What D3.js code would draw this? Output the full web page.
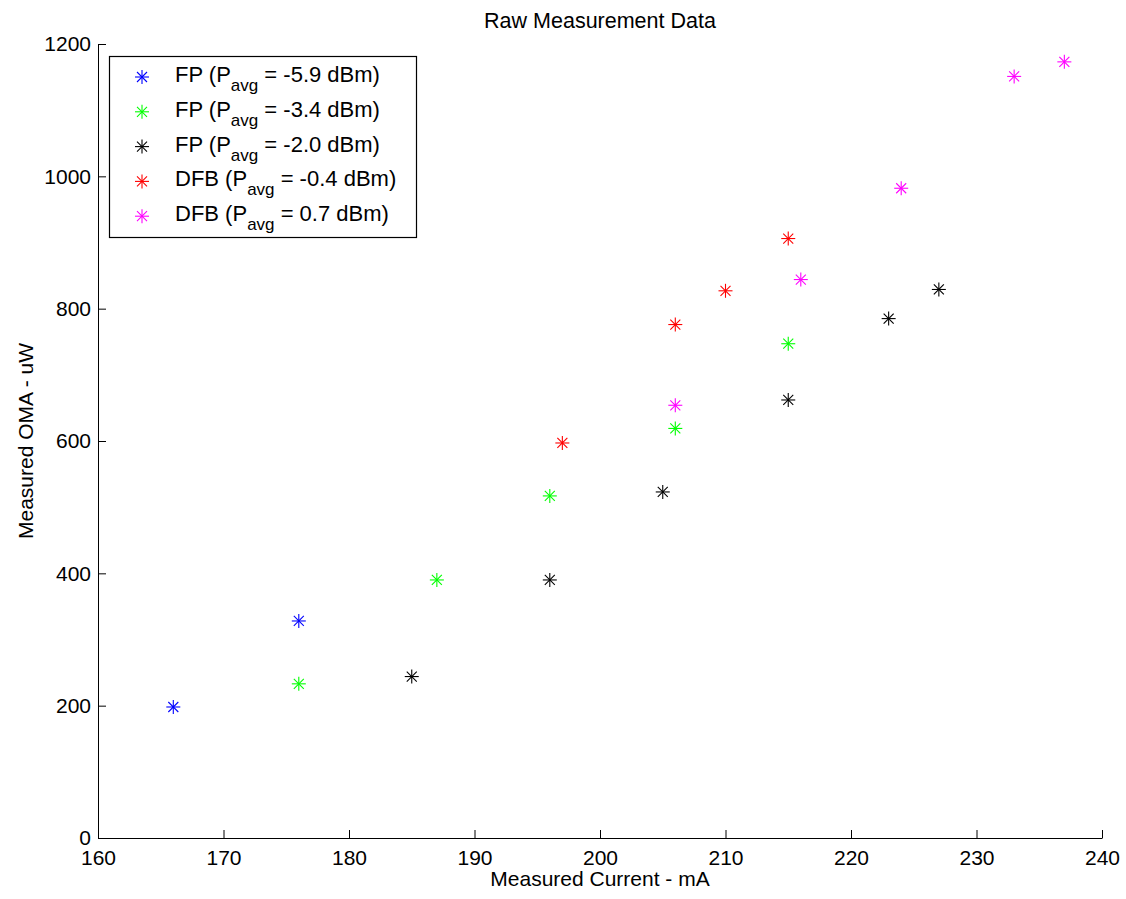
<!DOCTYPE html>
<html>
<head>
<meta charset="utf-8">
<script src="https://cdn.jsdelivr.net/npm/d3@7"></script>
<style>
  body { margin: 0; background: #fff; }
  svg { font-family: "Liberation Sans", Arial, Helvetica, sans-serif; }
  .tick text { font-size: 21px; fill: #000; }
</style>
</head>
<body>
<svg id="chart" width="1126" height="899"></svg>
<script>
// series
var seriesNames = ["FP", "FP", "FP", "DFB", "DFB"];
var seriesPavg = ["-5.9", "-3.4", "-2.0", "-0.4", "0.7"];
var seriesColors = ["#0000ff", "#00ff00", "#000000", "#ff0000", "#ff00ff"];

var fp59Current = [166, 176];
var fp59Oma = [198, 328];
var fp34Current = [176, 187, 196, 206, 215];
var fp34Oma = [233, 390, 517, 619, 747];
var fp20Current = [185, 196, 205, 215, 223, 227];
var fp20Oma = [244, 390, 523, 662, 785, 829];
var dfb04Current = [197, 206, 210, 215];
var dfb04Oma = [597, 776, 827, 906];
var dfb07Current = [206, 216, 224, 233, 237];
var dfb07Oma = [654, 844, 982, 1151, 1173];

var xTicks = [160, 170, 180, 190, 200, 210, 220, 230, 240];
var yTicks = [0, 200, 400, 600, 800, 1000, 1200];

var series = [
  [fp59Current, fp59Oma],
  [fp34Current, fp34Oma],
  [fp20Current, fp20Oma],
  [dfb04Current, dfb04Oma],
  [dfb07Current, dfb07Oma]
];

var mLeft = 98, mRight = 1102, mTop = 44, mBottom = 838;

var svg = d3.select('#chart');

var x = d3.scaleLinear().domain([160, 240]).range([mLeft, mRight]);
var y = d3.scaleLinear().domain([0, 1200]).range([mBottom, mTop]);

// axes, ticks point inward like matlab
var xAxis = svg.append('g')
    .attr('transform', `translate(0, ${mBottom})`)
    .call(d3.axisBottom(x).tickValues(xTicks).tickFormat(d3.format('d')).tickSizeInner(-8).tickSizeOuter(0));
xAxis.select('.domain').attr('stroke', '#000');
xAxis.selectAll('.tick line').attr('stroke', '#000');
xAxis.selectAll('.tick text').attr('dy', '0.71em').attr('y', 12);

var yAxis = svg.append('g')
    .attr('transform', `translate(${mLeft}, 0)`)
    .call(d3.axisLeft(y).tickValues(yTicks).tickFormat(d3.format('d')).tickSizeInner(-8).tickSizeOuter(0));
yAxis.select('.domain').attr('stroke', '#000');
yAxis.selectAll('.tick line').attr('stroke', '#000');
yAxis.selectAll('.tick text').attr('x', -7);

// title and labels
svg.append('text')
    .attr('x', (mLeft + mRight) / 2).attr('y', 28)
    .attr('text-anchor', 'middle')
    .style('font-size', '21.5px')
    .text('Raw Measurement Data');

svg.append('text')
    .attr('x', (mLeft + mRight) / 2).attr('y', 886)
    .attr('text-anchor', 'middle')
    .style('font-size', '21px')
    .text('Measured Current - mA');

svg.append('text')
    .attr('transform', `translate(33, ${(mTop + mBottom) / 2}) rotate(-90)`)
    .attr('text-anchor', 'middle')
    .style('font-size', '21px')
    .text('Measured OMA - uW');

// asterisk marker
function star(g, color) {
    var r = 7, d = 5;
    g.append('line').attr('x1', -r).attr('x2', r).attr('y1', 0).attr('y2', 0);
    g.append('line').attr('x1', 0).attr('x2', 0).attr('y1', -r).attr('y2', r);
    g.append('line').attr('x1', -d).attr('x2', d).attr('y1', -d).attr('y2', d);
    g.append('line').attr('x1', -d).attr('x2', d).attr('y1', d).attr('y2', -d);
    g.selectAll('line').attr('stroke', color).attr('stroke-width', 1.1);
}

series.forEach(function(s, i) {
    var pts = s[0].map(function(c, j) { return [c, s[1][j]]; });
    svg.append('g').selectAll('g')
        .data(pts)
        .enter()
        .append('g')
        .attr('transform', function(d) { return `translate(${x(d[0])}, ${y(d[1])})`; })
        .each(function() { star(d3.select(this), seriesColors[i]); });
});

// legend
var legend = svg.append('g');
legend.append('rect')
    .attr('x', 109.5).attr('y', 56.5)
    .attr('width', 307).attr('height', 181)
    .attr('fill', '#fff').attr('stroke', '#000').attr('stroke-width', 1.2);

seriesNames.forEach(function(name, i) {
    var ly = 77 + i * 34.8;
    var g = legend.append('g').attr('transform', `translate(142, ${ly})`);
    star(g, seriesColors[i]);
    var t = legend.append('text')
        .attr('x', 175).attr('y', ly + 5)
        .style('font-size', '22px');
    t.append('tspan').text(name + ' (P');
    t.append('tspan').attr('dy', 9).style('font-size', '17px').text('avg');
    t.append('tspan').attr('dy', -9).text(' = ' + seriesPavg[i] + ' dBm)');
});
</script>
</body>
</html>
